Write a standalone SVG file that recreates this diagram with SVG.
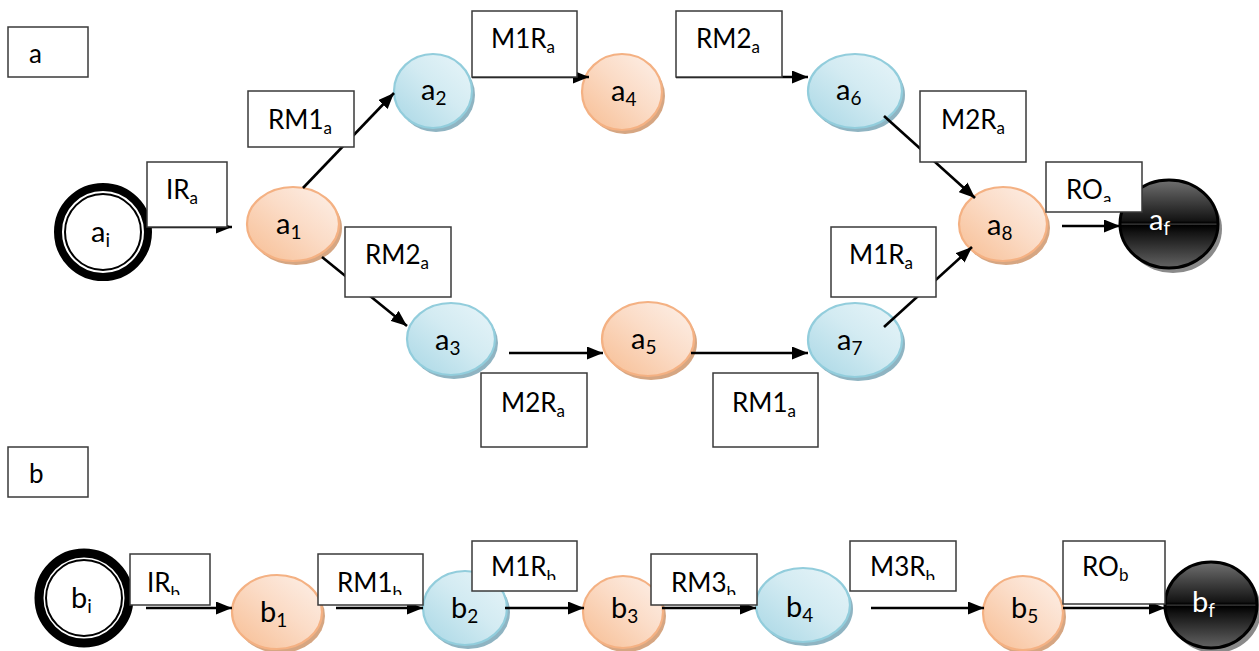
<svg xmlns="http://www.w3.org/2000/svg" width="1259" height="651" viewBox="0 0 1259 651">
  <style>
    .lbl { font-family: Lato, "Liberation Sans", sans-serif; font-size: 26px; fill: #000; }
    .nl { font-family: Lato, "Liberation Sans", sans-serif; font-size: 29px; fill: #000; }
    .nl.w { fill: #fff; }
    .sub { font-size: 17px; }
    .nsub { font-size: 19px; }
    .box { fill: #fff; stroke: #3a3a3a; stroke-width: 1.5; }
    .edge { fill: none; stroke: #000; stroke-width: 2.6; marker-end: url(#arrow); }
    .orange { fill: url(#gOrange); stroke: #f4b183; stroke-width: 2.2; }
    .blue { fill: url(#gBlue); stroke: #92cddc; stroke-width: 2.2; }
    .black { fill: url(#gBlack); stroke: #000; stroke-width: 3; }
    .shO { fill: #d6a682; }
    .shB { fill: #8fb4c2; }
    .shK { fill: #8a8a8a; }
    .ring { fill: #fff; stroke: #000; }
  </style>
  <defs>
    <marker id="arrow" viewBox="0 0 16 13" refX="16" refY="6.5" markerWidth="16" markerHeight="13" markerUnits="userSpaceOnUse" orient="auto">
      <path d="M0,0 L16,6.5 L0,13 z" fill="#000"/>
    </marker>
    <linearGradient id="gOrange" x1="0" y1="1" x2="1" y2="0">
      <stop offset="0" stop-color="#f7bd92"/>
      <stop offset="0.55" stop-color="#fbdcc7"/>
      <stop offset="1" stop-color="#fdf1ea"/>
    </linearGradient>
    <linearGradient id="gBlue" x1="0" y1="1" x2="1" y2="0">
      <stop offset="0" stop-color="#a8d7e5"/>
      <stop offset="0.55" stop-color="#d3ebf2"/>
      <stop offset="1" stop-color="#e8f5f9"/>
    </linearGradient>
    <linearGradient id="gBlack" x1="0" y1="0" x2="0" y2="1">
      <stop offset="0" stop-color="#707070"/>
      <stop offset="0.46" stop-color="#141414"/>
      <stop offset="0.49" stop-color="#000"/>
      <stop offset="0.5" stop-color="#4a4a4a"/>
      <stop offset="0.515" stop-color="#000"/>
      <stop offset="0.6" stop-color="#141414"/>
      <stop offset="1" stop-color="#646464"/>
    </linearGradient>
    <!-- text areas of the label boxes that cut off the subscripts -->
    <clipPath id="clipROa"><rect x="1046" y="162" width="96" height="40"/></clipPath>
    <clipPath id="clipIRb"><rect x="130" y="554" width="80" height="41"/></clipPath>
    <clipPath id="clipRM1b"><rect x="318" y="554" width="105" height="41"/></clipPath>
    <clipPath id="clipM1Rb"><rect x="472" y="541" width="105" height="39"/></clipPath>
    <clipPath id="clipRM3b"><rect x="651" y="554" width="106" height="41"/></clipPath>
    <clipPath id="clipM3Rb"><rect x="850" y="541" width="106" height="39"/></clipPath>
  </defs>

  <rect width="1259" height="651" fill="#fff"/>

  <!-- section tags -->
  <g id="tag-a">
    <rect class="box" x="8" y="27" width="80" height="50"/>
    <text class="lbl" x="29" y="63">a</text>
  </g>
  <g id="tag-b">
    <rect class="box" x="8" y="447" width="80" height="50"/>
    <text class="lbl" x="29" y="483">b</text>
  </g>

  <!-- states, process a -->
  <g id="node-ai">
    <circle class="ring" cx="103" cy="232" r="45" stroke-width="8"/>
    <circle class="ring" cx="103" cy="232" r="38" stroke-width="2"/>
    <text class="nl" x="91" y="242">a<tspan class="nsub" dy="5">i</tspan></text>
  </g>
  <g id="node-a1">
    <ellipse class="shO" cx="296" cy="228" rx="46" ry="37"/>
    <ellipse class="orange" cx="293" cy="224" rx="46" ry="37"/>
    <text class="nl" x="276" y="234">a<tspan class="nsub" dy="5">1</tspan></text>
  </g>
  <g id="node-a2">
    <ellipse class="shB" cx="436" cy="95" rx="39" ry="37"/>
    <ellipse class="blue" cx="433" cy="91" rx="39" ry="37"/>
    <text class="nl" x="421" y="100">a<tspan class="nsub" dy="5">2</tspan></text>
  </g>
  <g id="node-a3">
    <ellipse class="shB" cx="454" cy="343" rx="44" ry="36"/>
    <ellipse class="blue" cx="451" cy="339" rx="44" ry="36"/>
    <text class="nl" x="435" y="350">a<tspan class="nsub" dy="5">3</tspan></text>
  </g>
  <g id="node-a4">
    <ellipse class="shO" cx="625" cy="96" rx="40" ry="38"/>
    <ellipse class="orange" cx="622" cy="92" rx="40" ry="38"/>
    <text class="nl" x="611" y="101">a<tspan class="nsub" dy="5">4</tspan></text>
  </g>
  <g id="node-a5">
    <ellipse class="shO" cx="651" cy="343" rx="46" ry="37"/>
    <ellipse class="orange" cx="648" cy="339" rx="46" ry="37"/>
    <text class="nl" x="631" y="349">a<tspan class="nsub" dy="5">5</tspan></text>
  </g>
  <g id="node-a6">
    <ellipse class="shB" cx="858" cy="95" rx="47" ry="37"/>
    <ellipse class="blue" cx="855" cy="91" rx="47" ry="37"/>
    <text class="nl" x="836" y="100">a<tspan class="nsub" dy="5">6</tspan></text>
  </g>
  <g id="node-a7">
    <ellipse class="shB" cx="858" cy="344" rx="47" ry="37"/>
    <ellipse class="blue" cx="855" cy="340" rx="47" ry="37"/>
    <text class="nl" x="837" y="350">a<tspan class="nsub" dy="5">7</tspan></text>
  </g>
  <g id="node-a8">
    <ellipse class="shO" cx="1006" cy="228" rx="44" ry="37"/>
    <ellipse class="orange" cx="1003" cy="224" rx="44" ry="37"/>
    <text class="nl" x="987" y="235">a<tspan class="nsub" dy="5">8</tspan></text>
  </g>
  <g id="node-af">
    <ellipse class="shK" cx="1173" cy="229" rx="49" ry="44"/>
    <ellipse class="black" cx="1169" cy="224" rx="49" ry="44"/>
    <text class="nl w" x="1149" y="230">a<tspan class="nsub" dy="5">f</tspan></text>
  </g>

  <!-- states, process b -->
  <g id="node-bi">
    <circle class="ring" cx="84" cy="598" r="45" stroke-width="9"/>
    <circle class="ring" cx="84" cy="598" r="38" stroke-width="2"/>
    <text class="nl" x="71" y="608">b<tspan class="nsub" dy="5">i</tspan></text>
  </g>
  <g id="node-b1">
    <ellipse class="shO" cx="280" cy="616" rx="45" ry="37"/>
    <ellipse class="orange" cx="277" cy="612" rx="45" ry="37"/>
    <text class="nl" x="260" y="622">b<tspan class="nsub" dy="5">1</tspan></text>
  </g>
  <g id="node-b2">
    <ellipse class="shB" cx="468" cy="612" rx="42" ry="37"/>
    <ellipse class="blue" cx="465" cy="608" rx="42" ry="37"/>
    <text class="nl" x="451" y="618">b<tspan class="nsub" dy="5">2</tspan></text>
  </g>
  <g id="node-b3">
    <ellipse class="shO" cx="626" cy="616" rx="40" ry="36"/>
    <ellipse class="orange" cx="623" cy="612" rx="40" ry="36"/>
    <text class="nl" x="611" y="618">b<tspan class="nsub" dy="5">3</tspan></text>
  </g>
  <g id="node-b4">
    <ellipse class="shB" cx="806" cy="609" rx="47" ry="37"/>
    <ellipse class="blue" cx="803" cy="605" rx="47" ry="37"/>
    <text class="nl" x="786" y="617">b<tspan class="nsub" dy="5">4</tspan></text>
  </g>
  <g id="node-b5">
    <ellipse class="shO" cx="1026" cy="617" rx="40" ry="37"/>
    <ellipse class="orange" cx="1023" cy="613" rx="40" ry="37"/>
    <text class="nl" x="1011" y="618">b<tspan class="nsub" dy="5">5</tspan></text>
  </g>
  <g id="node-bf">
    <ellipse class="shK" cx="1215" cy="610" rx="46" ry="43"/>
    <ellipse class="black" cx="1211" cy="605" rx="46" ry="43"/>
    <text class="nl w" x="1192" y="612">b<tspan class="nsub" dy="5">f</tspan></text>
  </g>

  <!-- transitions -->
  <g id="connectors">
    <line class="edge" x1="150" y1="227" x2="232" y2="227"/>
    <line class="edge" x1="303" y1="188" x2="394" y2="93"/>
    <line class="edge" x1="322" y1="257" x2="407" y2="326"/>
    <line class="edge" x1="472" y1="77" x2="589" y2="77"/>
    <line class="edge" x1="676" y1="77" x2="808" y2="77"/>
    <line class="edge" x1="884" y1="116" x2="975" y2="198"/>
    <line class="edge" x1="509" y1="353" x2="603" y2="353"/>
    <line class="edge" x1="691" y1="353" x2="808" y2="353"/>
    <line class="edge" x1="884" y1="327" x2="972" y2="247"/>
    <line class="edge" x1="1062" y1="226" x2="1120" y2="226"/>
    <line class="edge" x1="146" y1="608" x2="232" y2="608"/>
    <line class="edge" x1="336" y1="608" x2="423" y2="608"/>
    <line class="edge" x1="505" y1="608" x2="584" y2="608"/>
    <line class="edge" x1="662" y1="608" x2="756" y2="608"/>
    <line class="edge" x1="871" y1="608" x2="984" y2="608"/>
    <line class="edge" x1="1063" y1="608" x2="1165" y2="608"/>
  </g>

  <!-- transition labels, process a -->
  <g id="label-IRa">
    <rect class="box" x="147" y="162" width="80" height="65"/>
    <text class="lbl" x="166" y="199">IR<tspan class="sub" dy="5">a</tspan></text>
  </g>
  <g id="label-RM1a-top">
    <rect class="box" x="248" y="91" width="106" height="56"/>
    <text class="lbl" x="268" y="129">RM1<tspan class="sub" dy="5">a</tspan></text>
  </g>
  <g id="label-RM2a-left">
    <rect class="box" x="345" y="227" width="106" height="70"/>
    <text class="lbl" x="365" y="264">RM2<tspan class="sub" dy="5">a</tspan></text>
  </g>
  <g id="label-M1Ra-top">
    <rect class="box" x="472" y="11" width="105" height="66"/>
    <text class="lbl" x="491" y="48">M1R<tspan class="sub" dy="5">a</tspan></text>
  </g>
  <g id="label-RM2a-top">
    <rect class="box" x="676" y="11" width="106" height="66"/>
    <text class="lbl" x="696" y="48">RM2<tspan class="sub" dy="5">a</tspan></text>
  </g>
  <g id="label-M2Ra-right">
    <rect class="box" x="920" y="91" width="106" height="71"/>
    <text class="lbl" x="941" y="129">M2R<tspan class="sub" dy="5">a</tspan></text>
  </g>
  <g id="label-ROa">
    <rect class="box" x="1046" y="162" width="96" height="50"/>
    <text class="lbl" x="1066" y="199" clip-path="url(#clipROa)">RO<tspan class="sub" dy="6">a</tspan></text>
  </g>
  <g id="label-M1Ra-right">
    <rect class="box" x="831" y="227" width="105" height="70"/>
    <text class="lbl" x="849" y="264">M1R<tspan class="sub" dy="5">a</tspan></text>
  </g>
  <g id="label-M2Ra-bottom">
    <rect class="box" x="481" y="373" width="106" height="74"/>
    <text class="lbl" x="501" y="412">M2R<tspan class="sub" dy="5">a</tspan></text>
  </g>
  <g id="label-RM1a-bottom">
    <rect class="box" x="713" y="373" width="105" height="74"/>
    <text class="lbl" x="732" y="412">RM1<tspan class="sub" dy="5">a</tspan></text>
  </g>

  <!-- transition labels, process b -->
  <g id="label-IRb">
    <rect class="box" x="130" y="554" width="80" height="51"/>
    <text class="lbl" x="147" y="592" clip-path="url(#clipIRb)">IR<tspan class="sub" dy="7">b</tspan></text>
  </g>
  <g id="label-RM1b">
    <rect class="box" x="318" y="554" width="105" height="51"/>
    <text class="lbl" x="337" y="592" clip-path="url(#clipRM1b)">RM1<tspan class="sub" dy="7">b</tspan></text>
  </g>
  <g id="label-M1Rb">
    <rect class="box" x="472" y="541" width="105" height="50"/>
    <text class="lbl" x="491" y="576" clip-path="url(#clipM1Rb)">M1R<tspan class="sub" dy="7">b</tspan></text>
  </g>
  <g id="label-RM3b">
    <rect class="box" x="651" y="554" width="106" height="51"/>
    <text class="lbl" x="671" y="592" clip-path="url(#clipRM3b)">RM3<tspan class="sub" dy="7">b</tspan></text>
  </g>
  <g id="label-M3Rb">
    <rect class="box" x="850" y="541" width="106" height="50"/>
    <text class="lbl" x="870" y="576" clip-path="url(#clipM3Rb)">M3R<tspan class="sub" dy="7">b</tspan></text>
  </g>
  <g id="label-ROb">
    <rect class="box" x="1063" y="541" width="102" height="63"/>
    <text class="lbl" x="1082" y="576">RO<tspan class="sub" dy="5">b</tspan></text>
  </g>
</svg>
